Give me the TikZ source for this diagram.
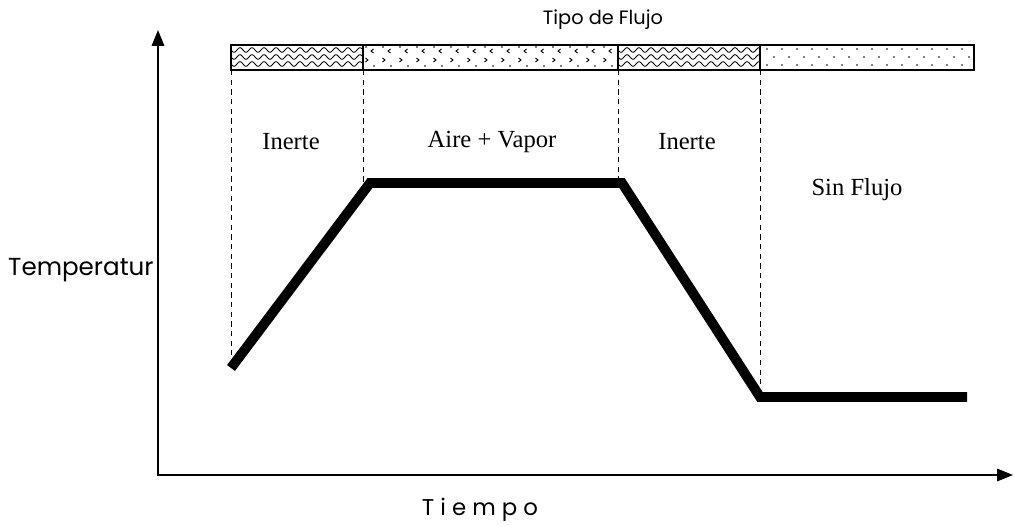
\documentclass[tikz,border=0pt]{standalone}
\usepackage{fontspec}
\setmainfont{Liberation Serif}
\newfontfamily\gothic{Poppins}
\usetikzlibrary{arrows.meta}
\tikzset{
  axis/.style={line width=1.2pt, line join=miter},
  guide/.style={line width=0.5pt, dash pattern=on 3pt off 2.5pt},
  profile/.style={line width=5.6pt, line join=miter, line cap=butt},
  seg/.style={draw, line width=0.8pt, inner sep=0pt, outer sep=0pt, anchor=north west, minimum height=0.5cm},
  lbl/.style={font=\fontsize{14}{16}\selectfont},
  sanslbl/.style={font=\gothic\fontsize{11}{13}\selectfont},
  patline/.style={line width=0.5pt},
  dotmark/.style={fill=black, draw=none}
}
\begin{document}
\begin{tikzpicture}[x=0.02cm, y=-0.02cm]
\useasboundingbox (0,0) rectangle (1014,526);
% axes
\coordinate (o) at (158,475);
\coordinate (ytop) at (158,30);
\coordinate (xend) at (1013,475);
\draw[axis, {Triangle[width=7pt,length=9pt]}-{Triangle[width=7pt,length=9pt]}] (ytop) -- (o) -- (xend);
% patterns: waves
\foreach \a/\b in {231/363, 618/760}{
  \begin{scope}
    \clip (\a,45) rectangle (\b,70);
    \foreach \yy in {50,57,64}
      \draw[patline] plot[domain=0:\b-\a, samples=160, smooth] ({\a+\x},{\yy+2.3*sin(30*\x)});
  \end{scope}
}
% pattern: air + vapour
\foreach \xx in {372,389,...,610}{
  \draw[patline] (\xx+1.5,49) -- (\xx-1,51) -- (\xx+1.5,53);
  \fill[dotmark] (\xx-6,47) circle (0.5pt);
}
\foreach \xx in {367,384,...,610}{
  \draw[patline] (\xx-1.5,58) -- (\xx+1,60) -- (\xx-1.5,62);
  \fill[dotmark] (\xx+7,66) circle (0.5pt);
}
% pattern: no flow dots
\foreach \xx in {767,782,...,970}{
  \fill[dotmark] (\xx,49) circle (0.55pt);
  \fill[dotmark] (\xx,65) circle (0.55pt);
}
\foreach \xx in {774,789,...,970}{
  \fill[dotmark] (\xx,57) circle (0.55pt);
}
% bar segments
\node[seg, minimum width=2.64cm] (s1) at (231,45) {};
\node[seg, minimum width=5.10cm] (s2) at (363,45) {};
\node[seg, minimum width=2.84cm] (s3) at (618,45) {};
\node[seg, minimum width=4.28cm] (s4) at (760,45) {};
% profile
\coordinate (c1) at (231,368);
\coordinate (c2) at (370,183);
\coordinate (c3) at (622,183);
\coordinate (c4) at (760,397);
\coordinate (c5) at (967,397);
% guides
\coordinate (g1) at (231,368);
\coordinate (g2) at (363,183);
\coordinate (g3) at (618,183);
\coordinate (g4) at (760,397);
\draw[guide] (s1.south west) -- (g1);
\draw[guide] (s2.south west) -- (g2);
\draw[guide] (s3.south west) -- (g3);
\draw[guide] (s4.south west) -- (g4);
\draw[profile] (c1) -- (c2) -- (c3) -- (c4) -- (c5);
% labels
\node[sanslbl] (tf) at (603,20) {Tipo de Flujo};
\node[lbl] (l1) at (291,142) {Inerte};
\node[lbl] (l2) at (492,142) {Aire + Vapor};
\node[lbl] (l3) at (687,142) {Inerte};
\node[lbl] (l4) at (857,190) {Sin Flujo};
\node[sanslbl, font=\gothic\fontsize{14}{16}\selectfont, anchor=east, inner sep=0pt] (ty) at (154,270) {Temperatur};
\node[sanslbl, font=\gothic\fontsize{13}{15}\selectfont] (tx) at (480,510) {T i e m p o};
\end{tikzpicture}
\end{document}
